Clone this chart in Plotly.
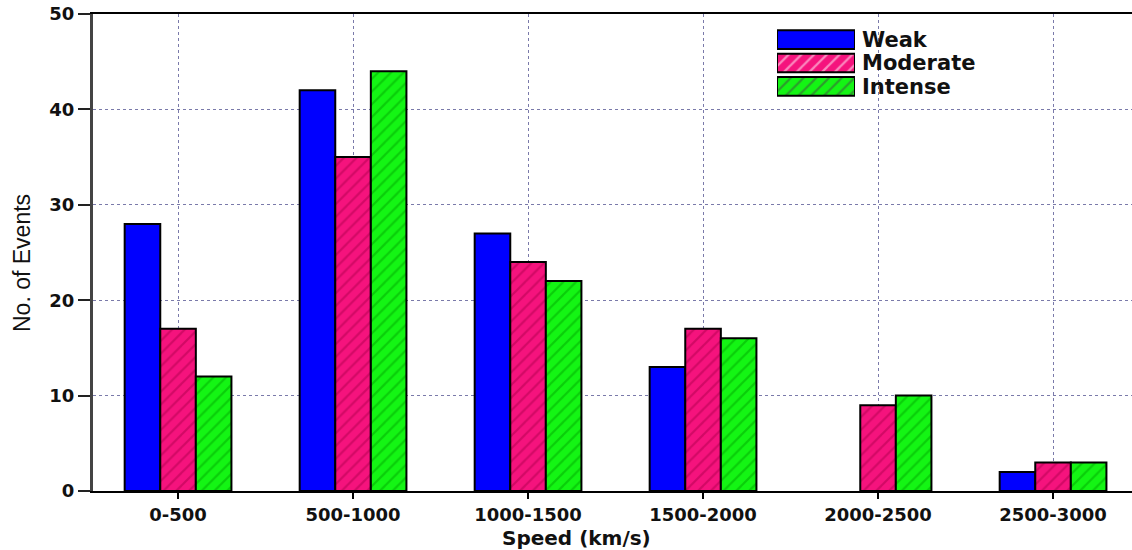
import plotly.graph_objects as go

# Speed bins and event counts per storm class
speed_bins = ["0-500", "500-1000", "1000-1500", "1500-2000", "2000-2500", "2500-3000"]
weak = [28, 42, 27, 13, 0, 2]
moderate = [17, 35, 24, 17, 9, 3]
intense = [12, 44, 22, 16, 10, 3]

series_names = ["Weak", "Moderate", "Intense"]
fill_colors = ["#0000ff", "#f5137d", "#14f514"]
hatch_colors = ["#0000ff", "#b0004e", "#00a800"]
hatch_shapes = ["", "/", "/"]

W, H = 1132, 550
ML, MT, MB, MR = 93, 14, 59, 0
PW, PH = W - ML - MR, H - MT - MB

tick_font = dict(family="DejaVu Sans", size=18, color="#111111", weight="bold")

fig = go.Figure()
x_idx = list(range(len(speed_bins)))
for name, vals, fc, hc, hs in zip(series_names, [weak, moderate, intense],
                                  fill_colors, hatch_colors, hatch_shapes):
    # empty bins get no outline so nothing is drawn for them
    outline = [2 if v > 0 else 0 for v in vals]
    fig.add_trace(go.Bar(
        x=x_idx, y=vals, name=name, showlegend=False,
        marker=dict(color=fc, line=dict(color="black", width=outline),
                    pattern=dict(shape=hs, fgcolor=hc, bgcolor=fc,
                                 size=9, solidity=0.25)),
    ))

# Key: horizontal hatched bars in a small inset subplot, labelled on its right side
key_pos = list(range(len(series_names)))
fig.add_trace(go.Bar(
    y=key_pos, x=[1] * len(series_names), orientation="h", width=0.8,
    xaxis="x2", yaxis="y2", showlegend=False, hoverinfo="skip",
    marker=dict(color=fill_colors, line=dict(color="black", width=2),
                pattern=dict(shape=hatch_shapes, fgcolor=hatch_colors,
                             bgcolor=fill_colors, size=9, solidity=0.25)),
))

def px_x(p):
    return (p - ML) / PW

def px_y(p):
    return (H - MB - p) / PH

grid_col = "#7a7aaa"
fig.update_layout(
    width=W, height=H,
    margin=dict(l=ML, r=MR, t=MT, b=MB),
    paper_bgcolor="white", plot_bgcolor="white",
    barmode="group", bargap=0.39, bargroupgap=0,
    xaxis=dict(
        range=[-0.486, -0.486 + PW / 175.0],
        tickmode="array", tickvals=x_idx, ticktext=speed_bins,
        tickfont=tick_font, ticks="outside", ticklen=6, tickwidth=2, tickcolor="black",
        showline=True, linecolor="black", linewidth=2, mirror=True,
        showgrid=True, gridcolor=grid_col, griddash="dot", gridwidth=1,
        zeroline=False, fixedrange=True,
    ),
    yaxis=dict(
        range=[0, 50], tickvals=[0, 10, 20, 30, 40, 50],
        tickfont=tick_font, ticks="outside", ticklen=12, tickwidth=2, tickcolor="#222222",
        showline=True, linecolor="#444444", linewidth=3,
        showgrid=True, gridcolor=grid_col, griddash="dot", gridwidth=1,
        zeroline=False, fixedrange=True,
    ),
    xaxis2=dict(domain=[px_x(777), px_x(855)], anchor="y2", range=[0, 1],
                visible=False, fixedrange=True),
    yaxis2=dict(domain=[px_y(98), px_y(28)], anchor="x2", side="right",
                range=[2.5, -0.5], tickmode="array", tickvals=key_pos,
                ticktext=series_names,
                showgrid=False, zeroline=False, showline=False,
                ticks="", ticklabelstandoff=6,
                tickfont=dict(family="DejaVu Sans", size=21, color="#111111", weight="bold"),
                fixedrange=True),
    annotations=[
        dict(text="Speed (km/s)", x=px_x(576), y=px_y(538), xref="paper", yref="paper",
             showarrow=False, xanchor="center", yanchor="middle",
             font=dict(family="DejaVu Sans", size=20, color="#111111", weight="bold")),
        dict(text="No. of Events", x=px_x(22), y=px_y(263), xref="paper", yref="paper",
             showarrow=False, xanchor="center", yanchor="middle", textangle=-90,
             font=dict(family="Liberation Sans Narrow, Arial Narrow, sans-serif",
                       size=23, color="#111111")),
    ],
)

fig.write_html("out.html")
